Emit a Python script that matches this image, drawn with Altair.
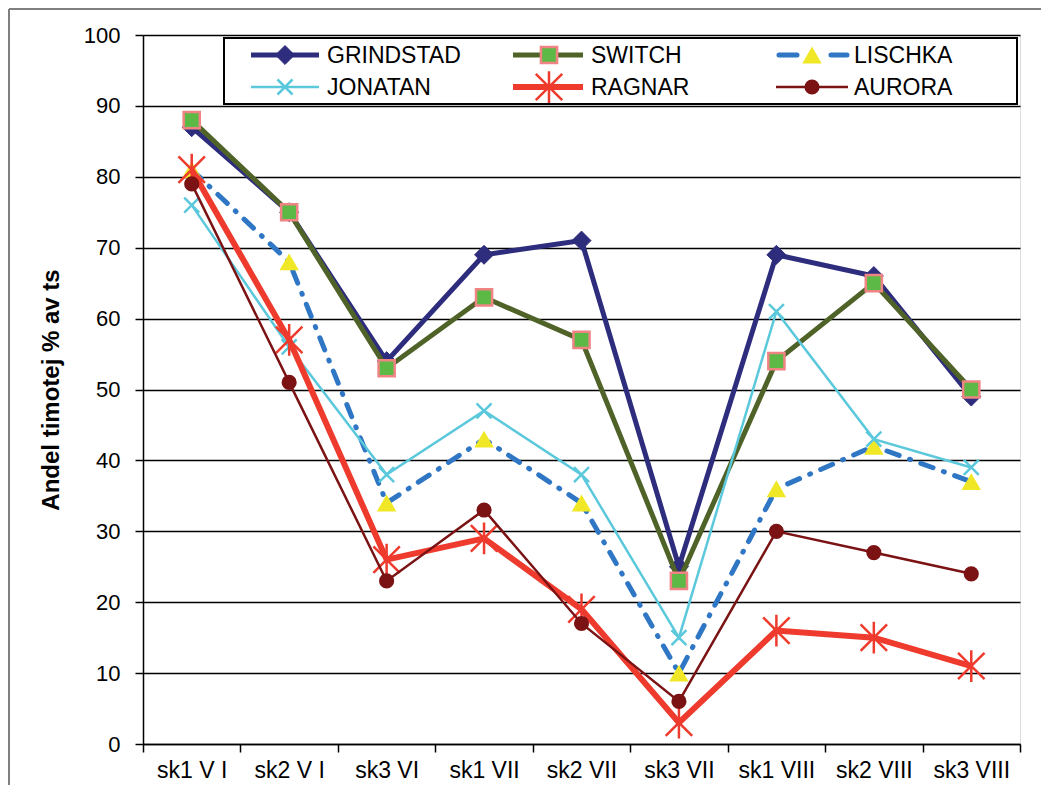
import altair as alt
import pandas as pd

categories = ["sk1 V I", "sk2 V I", "sk3 VI", "sk1 VII", "sk2 VII",
              "sk3 VII", "sk1 VIII", "sk2 VIII", "sk3 VIII"]
series_names = ["GRINDSTAD", "SWITCH", "LISCHKA", "JONATAN", "RAGNAR", "AURORA"]
grindstad = [87, 75, 54, 69, 71, 25, 69, 66, 49]
switch = [88, 75, 53, 63, 57, 23, 54, 65, 50]
lischka = [81, 68, 34, 43, 34, 10, 36, 42, 37]
jonatan = [76, 56, 38, 47, 38, 15, 61, 43, 39]
ragnar = [81, 57, 26, 29, 19, 3, 16, 15, 11]
aurora = [79, 51, 23, 33, 17, 6, 30, 27, 24]
y_ticks = list(range(0, 101, 10))

values = {"GRINDSTAD": grindstad, "SWITCH": switch, "LISCHKA": lischka,
          "JONATAN": jonatan, "RAGNAR": ragnar, "AURORA": aurora}

rows = []
for name in series_names:
    for c, v in zip(categories, values[name]):
        rows.append({"series": name, "cat": c, "val": v})
df = pd.DataFrame(rows)

FONT = "Liberation Sans"
XPATH = "M-1,-1L1,1M-1,1L1,-1"
STARPATH = "M-1,-1L1,1M-1,1L1,-1M0,-1.2L0,1.2"
DIAMOND = "M0,-1L1,0L0,1L-1,0Z"

style = {
    "GRINDSTAD": dict(line=dict(color="#2e2c7c", strokeWidth=5),
                      pt=dict(shape=DIAMOND, filled=True, fill="#2e2c7c", stroke="#2e2c7c", strokeWidth=1, size=360, opacity=1)),
    "SWITCH": dict(line=dict(color="#4f6228", strokeWidth=5),
                   pt=dict(shape="square", filled=True, fill="#5cb946", stroke="#f08484", strokeWidth=2.5, size=260, opacity=1)),
    "LISCHKA": dict(line=dict(color="#2f76c4", strokeWidth=5, strokeDash=[13, 11, 1, 11], strokeCap="round"),
                    pt=dict(shape="triangle-up", filled=True, fill="#f0e827", strokeWidth=0, size=380, opacity=1)),
    "JONATAN": dict(line=dict(color="#5bc8dc", strokeWidth=2.5),
                    pt=dict(shape=XPATH, filled=False, stroke="#5bc8dc", strokeWidth=2.5, size=225, opacity=1)),
    "RAGNAR": dict(line=dict(color="#ee3b2d", strokeWidth=6),
                   pt=dict(shape=STARPATH, filled=False, stroke="#ee3b2d", strokeWidth=2.5, size=700, opacity=1)),
    "AURORA": dict(line=dict(color="#7b1214", strokeWidth=2.5),
                   pt=dict(shape="circle", filled=True, fill="#7b1214", stroke="#7b1214", strokeWidth=0, size=230, opacity=1)),
}

x_enc = alt.X("cat:N", sort=categories,
              scale=alt.Scale(type="band", paddingInner=0, paddingOuter=0),
              bandPosition=0.5,
              axis=alt.Axis(title=None, labelAngle=0, labelFont=FONT, labelFontSize=23,
                            labelColor="black", tickBand="extent", tickSize=8,
                            tickColor="black", tickWidth=1.5, domainColor="black",
                            domainWidth=1.5, labelPadding=7, grid=False))
y_enc = alt.Y("val:Q", scale=alt.Scale(domain=[0, 100]),
              axis=alt.Axis(values=y_ticks, title="Andel timotej % av ts",
                            titleFont=FONT, titleFontSize=24, titleFontWeight="bold",
                            titleColor="black", titlePadding=20,
                            labelFont=FONT, labelFontSize=22, labelColor="black",
                            labelPadding=15, tickSize=8, tickColor="black", tickWidth=1.5,
                            domainColor="black", domainWidth=1.5,
                            grid=True, gridColor="black", gridWidth=1.5))

layers = []
# outer frame (left and top edges)
one = pd.DataFrame({"a": [0]})
layers.append(alt.Chart(one).mark_rule(color="#7f7f7f", strokeWidth=2).encode(
    x=alt.value(-134), y=alt.value(-26), y2=alt.value(750)))
layers.append(alt.Chart(one).mark_rule(color="#7f7f7f", strokeWidth=2).encode(
    x=alt.value(-134), x2=alt.value(898), y=alt.value(-26)))

first = True
for name in series_names:
    s = style[name]
    sub = df[df.series == name]
    xe = x_enc if first else alt.X("cat:N", sort=categories, bandPosition=0.5)
    ye = y_enc if first else alt.Y("val:Q")
    first = False
    layers.append(alt.Chart(sub).mark_line(**s["line"]).encode(x=xe, y=ye))
    layers.append(alt.Chart(sub).mark_point(**s["pt"]).encode(
        x=alt.X("cat:N", sort=categories, bandPosition=0.5), y=alt.Y("val:Q")))

# legend
layers.append(alt.Chart(one).mark_rect(fill="white", stroke="black", strokeWidth=2).encode(
    x=alt.value(81), x2=alt.value(874), y=alt.value(3), y2=alt.value(69)))
leg_cols = [(108, 176, 142, 184), (370, 440, 406, 448), (633, 705, 669, 711)]
leg_rows = [20, 52]
for i, name in enumerate(series_names):
    lx1, lx2, mx, tx = leg_cols[i % 3]
    ly = leg_rows[i // 3]
    s = style[name]
    lopts = {k: v for k, v in s["line"].items()}
    if name == "LISCHKA":
        lopts["strokeDash"] = [18, 34]
        lx1, lx2 = 636, 704
    layers.append(alt.Chart(one).mark_rule(**lopts).encode(
        x=alt.value(lx1), x2=alt.value(lx2), y=alt.value(ly)))
    layers.append(alt.Chart(one).mark_point(**s["pt"]).encode(
        x=alt.value(mx), y=alt.value(ly)))
    layers.append(alt.Chart(one).mark_text(font=FONT, fontSize=23, align="left",
                                           baseline="middle", color="black").encode(
        x=alt.value(tx), y=alt.value(ly + 1), text=alt.value(name)))

chart = alt.layer(*layers).properties(
    width=877, height=709, padding=0
).configure_view(stroke=None).configure(background="white")

chart.save("out.html", embed_options={"renderer": "svg", "actions": False})
